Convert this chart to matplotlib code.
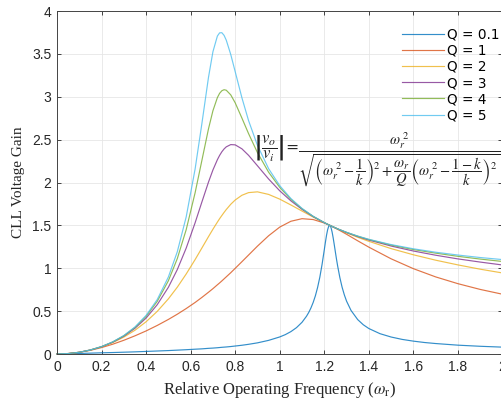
import matplotlib
matplotlib.use("Agg")
import matplotlib.pyplot as plt

# relative operating frequency samples
freq = [0, 0.05, 0.1, 0.15, 0.2, 0.25, 0.3, 0.35, 0.4, 0.45,
        0.5, 0.54, 0.58, 0.62, 0.65, 0.68, 0.7, 0.72, 0.73, 0.74,
        0.75, 0.76, 0.78, 0.8, 0.83, 0.86, 0.9, 0.95, 1.0, 1.05,
        1.1, 1.15, 1.2, 1.225, 1.26, 1.3, 1.35, 1.4, 1.5, 1.6,
        1.7, 1.8, 1.9, 2.0]

# Q = 0.1 has a narrow spike near 1.22, so it gets its own denser sampling
freq_q01 = [0, 0.05, 0.1, 0.15, 0.2, 0.25, 0.3, 0.35, 0.4, 0.45,
            0.5, 0.54, 0.58, 0.62, 0.65, 0.68, 0.7, 0.72, 0.74, 0.76,
            0.78, 0.8, 0.83, 0.86, 0.9, 0.95, 1.0, 1.025, 1.05, 1.075,
            1.1, 1.12, 1.13, 1.14, 1.15, 1.16, 1.17, 1.18, 1.19, 1.2,
            1.205, 1.21, 1.215, 1.22, 1.225, 1.23, 1.235, 1.24, 1.245, 1.25,
            1.255, 1.26, 1.27, 1.28, 1.29, 1.3, 1.32, 1.35, 1.375, 1.4,
            1.45, 1.5, 1.55, 1.6, 1.65, 1.7, 1.8, 1.9, 2.0]

gain_q01 = [0, 0.003, 0.006, 0.010, 0.014, 0.017, 0.021, 0.025, 0.030, 0.035,
            0.040, 0.045, 0.050, 0.056, 0.060, 0.066, 0.069, 0.073, 0.078, 0.082,
            0.087, 0.093, 0.102, 0.113, 0.130, 0.159, 0.199, 0.226, 0.261, 0.307,
            0.370, 0.440, 0.484, 0.537, 0.601, 0.679, 0.777, 0.897, 1.045, 1.216,
            1.304, 1.385, 1.450, 1.491, 1.500, 1.476, 1.423, 1.352, 1.270, 1.185,
            1.102, 1.025, 0.889, 0.778, 0.689, 0.616, 0.508, 0.401, 0.341, 0.297,
            0.237, 0.198, 0.170, 0.150, 0.134, 0.122, 0.103, 0.090, 0.080]

gain_q1 = [0, 0.005, 0.020, 0.043, 0.075, 0.114, 0.160, 0.212, 0.269, 0.333,
           0.403, 0.464, 0.530, 0.601, 0.659, 0.720, 0.762, 0.807, 0.829, 0.852,
           0.876, 0.900, 0.948, 0.999, 1.076, 1.154, 1.258, 1.379, 1.480, 1.548,
           1.578, 1.568, 1.528, 1.500, 1.454, 1.396, 1.320, 1.246, 1.110, 0.995,
           0.899, 0.820, 0.753, 0.697]

gain_q2 = [0, 0.005, 0.020, 0.046, 0.083, 0.133, 0.197, 0.277, 0.376, 0.497,
           0.643, 0.779, 0.933, 1.101, 1.234, 1.368, 1.455, 1.538, 1.578, 1.615,
           1.651, 1.685, 1.746, 1.796, 1.851, 1.882, 1.891, 1.861, 1.806, 1.738,
           1.667, 1.597, 1.531, 1.500, 1.458, 1.413, 1.361, 1.314, 1.229, 1.157,
           1.094, 1.039, 0.989, 0.945]

gain_q3 = [0, 0.005, 0.020, 0.047, 0.085, 0.138, 0.208, 0.300, 0.419, 0.575,
           0.778, 0.984, 1.235, 1.530, 1.769, 2.004, 2.146, 2.266, 2.316, 2.358,
           2.391, 2.416, 2.442, 2.439, 2.393, 2.317, 2.195, 2.041, 1.903, 1.786,
           1.687, 1.603, 1.531, 1.500, 1.459, 1.417, 1.370, 1.329, 1.259, 1.201,
           1.152, 1.109, 1.072, 1.038]

gain_q4 = [0, 0.005, 0.020, 0.047, 0.086, 0.140, 0.213, 0.310, 0.439, 0.614,
           0.854, 1.112, 1.450, 1.880, 2.252, 2.625, 2.837, 2.990, 3.040, 3.070,
           3.082, 3.076, 3.022, 2.929, 2.752, 2.570, 2.348, 2.120, 1.943, 1.804,
           1.694, 1.605, 1.532, 1.500, 1.459, 1.418, 1.374, 1.335, 1.270, 1.218,
           1.176, 1.139, 1.107, 1.079]

gain_q5 = [0, 0.005, 0.020, 0.047, 0.086, 0.141, 0.215, 0.315, 0.450, 0.635,
           0.898, 1.192, 1.599, 2.157, 2.679, 3.225, 3.525, 3.708, 3.745, 3.747,
           3.716, 3.659, 3.493, 3.292, 2.989, 2.722, 2.432, 2.161, 1.963, 1.813,
           1.698, 1.606, 1.532, 1.500, 1.459, 1.419, 1.375, 1.337, 1.276, 1.227,
           1.187, 1.154, 1.125, 1.101]

labels = ["Q = 0.1", "Q = 1", "Q = 2", "Q = 3", "Q = 4", "Q = 5"]
x_ticks = [0, 0.2, 0.4, 0.6, 0.8, 1.0, 1.2, 1.4, 1.6, 1.8, 2.0]
x_ticklabels = ["0", "0.2", "0.4", "0.6", "0.8", "1", "1.2", "1.4", "1.6", "1.8", "2"]
y_ticks = [0, 0.5, 1, 1.5, 2, 2.5, 3, 3.5, 4]
y_ticklabels = ["0", "0.5", "1", "1.5", "2", "2.5", "3", "3.5", "4"]

# matlab default line colours
colors = ["#0072BD", "#D95319", "#EDB120", "#7E2F8E", "#77AC30", "#4DBEEE"]

plt.rcParams["mathtext.fontset"] = "stix"

fig = plt.figure(figsize=(5.02, 4.05), dpi=100)
ax = fig.add_axes([57 / 502, 51 / 405, 445.5 / 502, 343 / 405])

series = [(freq_q01, gain_q01), (freq, gain_q1), (freq, gain_q2),
          (freq, gain_q3), (freq, gain_q4), (freq, gain_q5)]
for (fx, fy), c, lab in zip(series, colors, labels):
    ax.plot(fx, fy, color=c, lw=0.85, alpha=0.8, label=lab, clip_on=False)

ax.set_xlim(0, 2)
ax.set_ylim(0, 4)
ax.set_xticks(x_ticks)
ax.set_xticklabels(x_ticklabels, family="Liberation Sans", fontsize=10, color="#262626")
ax.set_yticks(y_ticks)
ax.set_yticklabels(y_ticklabels, family="Liberation Sans", fontsize=10, color="#262626")
ax.tick_params(direction="in", length=3, width=0.6, top=True, right=True, color="#262626", pad=4)
ax.grid(True, color="#e6e6e6", lw=0.6)
ax.set_axisbelow(True)
for s in ax.spines.values():
    s.set_color("#444444")
    s.set_linewidth(0.7)

ax.set_xlabel(r"Relative Operating Frequency ($\omega_{\mathrm{r}}$)",
              family="Liberation Serif", fontsize=12, color="#262626", labelpad=5)
ax.set_ylabel("CLL Voltage Gain", family="Liberation Serif", fontsize=11, color="#262626", labelpad=5)

ax.legend(loc="upper left", bbox_to_anchor=(402 / 502, 1 - 27.5 / 405),
          bbox_transform=fig.transFigure, frameon=False, prop={"family": "DejaVu Sans", "size": 9.8},
          handlelength=3.1, handletextpad=0.2, labelspacing=0.16, borderpad=0, borderaxespad=0)

# gain equation, left side and right side placed separately
lhs = r"$\left|\dfrac{v_o}{v_i}\right| =$"
rhs = (r"$\dfrac{\omega_r^{\;2}}{\sqrt{\left(\omega_r^{\;2}-\dfrac{1}{k}\right)^2"
       r"+\dfrac{\omega_r}{Q}\left(\omega_r^{\;2}-\dfrac{1-k}{k}\right)^2}}$")
ax.text(0.885, 2.385, lhs, fontsize=12, ha="left", va="center", color="#222222")
ax.text(1.08, 2.26, rhs, fontsize=10.5, ha="left", va="center", color="#222222")

fig.savefig("out.png", dpi=100)
